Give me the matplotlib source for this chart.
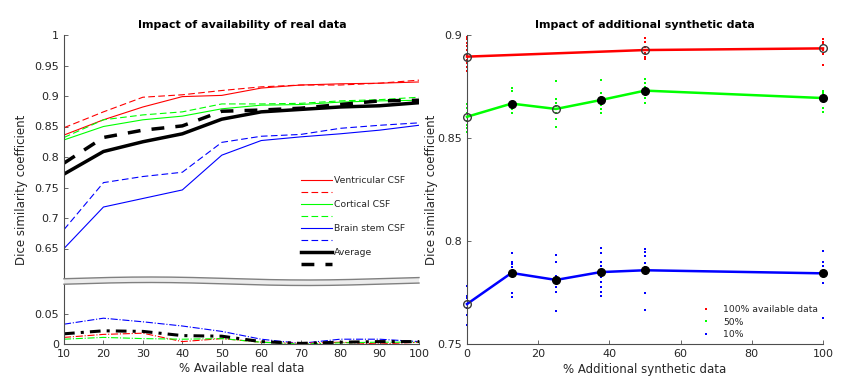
import numpy as np
import matplotlib
matplotlib.use('Agg')
import matplotlib.pyplot as plt
from matplotlib.lines import Line2D
from matplotlib.patches import Polygon

plt.rcParams['font.family'] = ['DejaVu Sans']
plt.rcParams['font.size'] = 8
TXT = '#262626'
AXC = '#4d4d4d'

# ---- left panel: impact of real data ----
pct_real = [10, 20, 30, 40, 50, 60, 70, 80, 90, 100]
vent_a = [0.836, 0.861, 0.882, 0.899, 0.901, 0.913, 0.918, 0.920, 0.921, 0.923]
vent_b = [0.848, 0.874, 0.898, 0.902, 0.909, 0.915, 0.918, 0.918, 0.921, 0.926]
cort_a = [0.828, 0.850, 0.861, 0.867, 0.879, 0.885, 0.886, 0.890, 0.892, 0.893]
cort_b = [0.832, 0.861, 0.869, 0.874, 0.887, 0.887, 0.888, 0.892, 0.894, 0.898]
stem_a = [0.650, 0.718, 0.732, 0.746, 0.803, 0.827, 0.833, 0.838, 0.844, 0.852]
stem_b = [0.681, 0.758, 0.768, 0.775, 0.824, 0.834, 0.837, 0.847, 0.852, 0.856]
avg_a = [0.772, 0.809, 0.825, 0.838, 0.862, 0.874, 0.878, 0.882, 0.884, 0.889]
avg_b = [0.790, 0.832, 0.844, 0.851, 0.875, 0.877, 0.880, 0.886, 0.892, 0.893]
# differences (lower part of broken axis)
vent_d = [0.011, 0.016, 0.018, 0.004, 0.009, 0.003, 0.001, 0.003, 0.000, 0.003]
cort_d = [0.008, 0.011, 0.009, 0.008, 0.009, 0.003, 0.000, 0.002, 0.003, 0.003]
stem_d = [0.033, 0.043, 0.037, 0.030, 0.021, 0.008, 0.001, 0.008, 0.008, 0.004]
avg_d = [0.017, 0.022, 0.021, 0.014, 0.013, 0.004, 0.001, 0.003, 0.004, 0.004]

# ---- right panel: impact of synthetic data ----
syn_100_x = [0, 50, 100]
syn_100_mean = [0.8895, 0.8927, 0.8935]
syn_100_open = [True, True, True]
syn_100_pts = [[0.8992, 0.8979, 0.8963, 0.8947, 0.8927, 0.8903, 0.8879, 0.8863, 0.8846, 0.8827],
               [0.8984, 0.8968, 0.8943, 0.8911, 0.8895, 0.8882],
               [0.8979, 0.8968, 0.8956, 0.8927, 0.8908, 0.8854]]
syn_x = [0, 12.5, 25, 37.5, 50, 100]
syn_50_mean = [0.8603, 0.8667, 0.8641, 0.8684, 0.8730, 0.8694]
syn_50_open = [True, False, True, False, False, False]
syn_50_pts = [[0.8665, 0.8644, 0.8623, 0.8603, 0.8584, 0.8563, 0.8547, 0.8531],
              [0.8741, 0.8730, 0.8676, 0.8655, 0.8639, 0.8620],
              [0.8778, 0.8688, 0.8671, 0.8655, 0.8623, 0.8591, 0.8552],
              [0.8782, 0.8720, 0.8698, 0.8676, 0.8660, 0.8639, 0.8620],
              [0.8785, 0.8768, 0.8746, 0.8714, 0.8693, 0.8668],
              [0.8730, 0.8717, 0.8684, 0.8644, 0.8628]]
syn_10_mean = [0.7694, 0.7845, 0.7811, 0.7849, 0.7858, 0.7843]
syn_10_open = [True, False, False, False, False, False]
syn_10_pts = [[0.7782, 0.7733, 0.7722, 0.7694, 0.7673, 0.7641, 0.7592],
              [0.7943, 0.7900, 0.7888, 0.7872, 0.7749, 0.7730],
              [0.7932, 0.7900, 0.7830, 0.7814, 0.7795, 0.7775, 0.7754, 0.7662],
              [0.7965, 0.7943, 0.7900, 0.7879, 0.7851, 0.7827, 0.7802, 0.7778, 0.7754, 0.7733],
              [0.7960, 0.7948, 0.7927, 0.7892, 0.7875, 0.7746, 0.7665],
              [0.7953, 0.7900, 0.7879, 0.7795, 0.7625]]

W, H = 852, 385
fig = plt.figure(figsize=(W / 100, H / 100), dpi=100)


def fx(px):
    return px / W


def fy(py):
    return 1 - py / H


def style(ax):
    for s in ['top', 'right']:
        ax.spines[s].set_visible(False)
    for s in ['left', 'bottom']:
        ax.spines[s].set_color(AXC)
        ax.spines[s].set_linewidth(0.8)
    ax.tick_params(direction='in', length=3, width=0.6, colors=AXC, labelcolor=TXT, labelsize=8)


# left axes (broken)
axu = fig.add_axes([fx(64), fy(279), fx(419 - 64), (279 - 35) / H])
axl = fig.add_axes([fx(64), fy(344), fx(419 - 64), (344 - 284) / H])
style(axu)
style(axl)
axu.spines['bottom'].set_visible(False)
axu.tick_params(axis='x', bottom=False, labelbottom=False)

thin = 0.8
d_thin = (6, 3)
d_thick = (3.7, 3.2)
red, green, blue = '#ff0000', '#00ff00', '#0000ff'

axu.plot(pct_real, vent_a, color=red, lw=thin, label='Ventricular CSF')
axu.plot(pct_real, vent_b, color=red, lw=thin, dashes=d_thin, label=' ')
axu.plot(pct_real, cort_a, color=green, lw=thin, label='Cortical CSF')
axu.plot(pct_real, cort_b, color=green, lw=thin, dashes=d_thin, label=' ')
axu.plot(pct_real, stem_a, color=blue, lw=thin, label='Brain stem CSF')
axu.plot(pct_real, stem_b, color=blue, lw=thin, dashes=d_thin, label=' ')
axu.plot(pct_real, avg_a, color='black', lw=2.5, label='Average')
axu.plot(pct_real, avg_b, color='black', lw=2.5, dashes=d_thick, label=' ')
axu.set_xlim(10, 100)
axu.set_ylim(0.6, 1.0)
axu.set_yticks([0.65, 0.7, 0.75, 0.8, 0.85, 0.9, 0.95, 1.0])
axu.set_yticklabels(['0.65', '0.7', '0.75', '0.8', '0.85', '0.9', '0.95', '1'])
axu.legend(loc='upper left', bbox_to_anchor=(fx(301), fy(176)), bbox_transform=fig.transFigure,
           frameon=False, fontsize=6.7, handlelength=3.3, handletextpad=0.2,
           labelspacing=0.33, borderpad=0, borderaxespad=0, labelcolor=TXT)

axl.plot(pct_real, stem_d, color=blue, lw=thin, ls='-.')
axl.plot(pct_real, vent_d, color=red, lw=thin, ls='-.')
axl.plot(pct_real, cort_d, color=green, lw=thin, ls='-.')
axl.plot(pct_real, avg_d, color='black', lw=2.2, dashes=(3.5, 2, 1, 2))
axl.set_xlim(10, 100)
axl.set_ylim(0, 0.1)
axl.set_yticks([0, 0.05])
axl.set_yticklabels(['0', '0.05'])
axl.set_xticks(pct_real)

# wavy break band
xs = np.linspace(64, 419, 200)
wave = -1.5 * np.cos(2 * np.pi * (xs - 150) / 314)
top = 278.5 + wave
bot = 284 + wave
poly = np.column_stack([np.r_[fx(xs), fx(xs[::-1])], np.r_[fy(top), fy(bot[::-1])]])
fig.patches.append(Polygon(poly, closed=True, transform=fig.transFigure, facecolor='#ececec', edgecolor='none'))
fig.lines.append(Line2D(fx(xs), fy(top), transform=fig.transFigure, color='#808080', lw=1))
fig.lines.append(Line2D(fx(xs), fy(bot), transform=fig.transFigure, color='#808080', lw=1))

fig.text(fx(242), fy(25), 'Impact of availability of real data', ha='center', va='center',
         fontweight='bold', fontsize=8, color='black')
fig.text(fx(242), fy(369), '% Available real data', ha='center', va='center', fontsize=8.5, color=TXT)
fig.text(fx(22), fy(190), 'Dice similarity coefficient', ha='center', va='center', rotation=90,
         fontsize=8.5, color=TXT)

# right axes
axr = fig.add_axes([fx(467), fy(344), fx(823 - 467), (344 - 35) / H])
style(axr)


def draw_group(ax, xv, means, opens, pts, col, label):
    for x, p in zip(xv, pts):
        ax.plot([x] * len(p), p, ls='none', marker='s', ms=2, mew=0, color=col, clip_on=False)
    ax.plot(xv, means, color=col, lw=1.8, zorder=3, clip_on=False)
    for x, m, o in zip(xv, means, opens):
        if o:
            ax.plot(x, m, 'o', ms=5.5, mfc='none', mec='#3a3a3a', mew=1.0, zorder=4, clip_on=False)
        else:
            ax.plot(x, m, 'o', ms=5.5, mfc='black', mec='black', zorder=4, clip_on=False)
    ax.plot([], [], ls='none', marker='s', ms=2, mew=0, color=col, label=label)


draw_group(axr, syn_100_x, syn_100_mean, syn_100_open, syn_100_pts, red, '100% available data')
draw_group(axr, syn_x, syn_50_mean, syn_50_open, syn_50_pts, green, '50%')
draw_group(axr, syn_x, syn_10_mean, syn_10_open, syn_10_pts, blue, '10%')
axr.set_xlim(0, 100)
axr.set_ylim(0.75, 0.9)
axr.set_xticks([0, 20, 40, 60, 80, 100])
axr.set_yticks([0.75, 0.8, 0.85, 0.9])
axr.set_yticklabels(['0.75', '0.8', '0.85', '0.9'])
axr.legend(loc='upper left', bbox_to_anchor=(fx(701), fy(305)), bbox_transform=fig.transFigure,
           frameon=False, fontsize=6.7, handlelength=1.0, handletextpad=1.4,
           labelspacing=0.38, borderpad=0, borderaxespad=0, labelcolor=TXT)

fig.text(fx(645), fy(25), 'Impact of additional synthetic data', ha='center', va='center',
         fontweight='bold', fontsize=8, color='black')
fig.text(fx(645), fy(369), '% Additional synthetic data', ha='center', va='center', fontsize=8.5, color=TXT)
fig.text(fx(432), fy(190), 'Dice similarity coefficient', ha='center', va='center', rotation=90,
         fontsize=8.5, color=TXT)

fig.savefig('out.png', dpi=100)
